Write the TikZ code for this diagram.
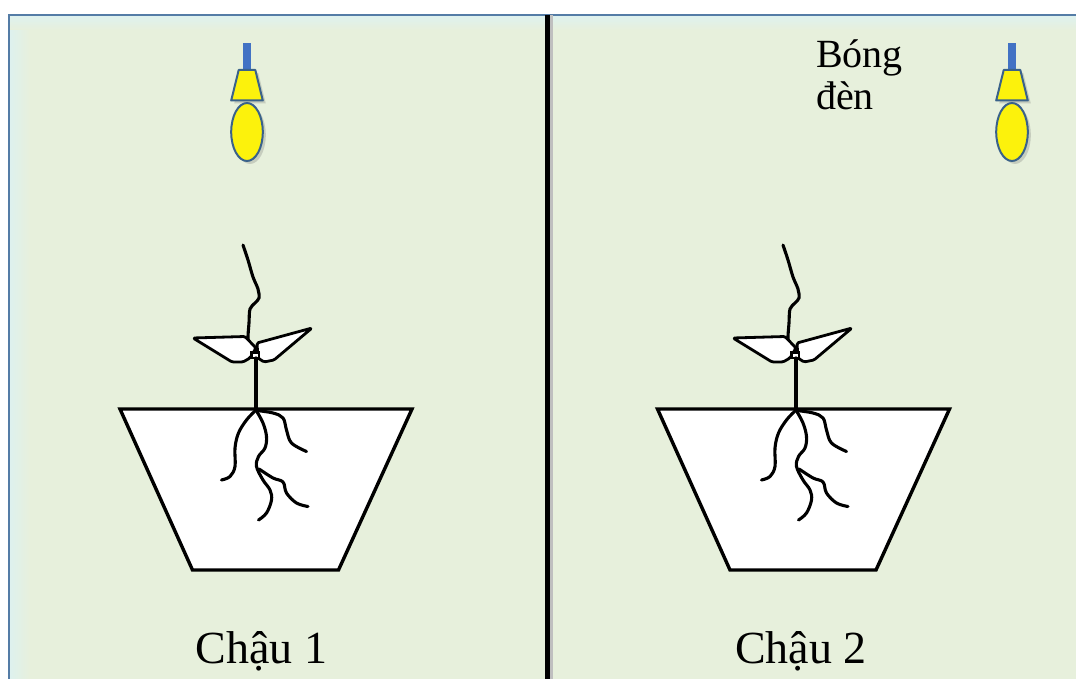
\documentclass[tikz,border=0pt]{standalone}
\usepackage{fontspec}
\setmainfont{Liberation Serif}
\usetikzlibrary{shadows}
\definecolor{panelbg}{RGB}{231,240,220}
\definecolor{panelglow}{RGB}{222,241,238}
\definecolor{framecol}{RGB}{84,124,166}
\definecolor{stemblue}{RGB}{66,114,196}
\definecolor{bulbyellow}{RGB}{252,242,12}
\definecolor{bulbedge}{RGB}{58,98,138}
\tikzset{
  plantline/.style={line width=3.1pt, line cap=round, line join=round, black},
  potline/.style={draw=black, line width=3.4pt, line join=miter, fill=white},
  leafline/.style={draw=black, line width=2.8pt, line join=round, fill=white},
  label/.style={font=\fontsize{46}{52}\selectfont, inner sep=0pt, text=black},
  smalllabel/.style={font=\fontsize{40}{42}\selectfont, inner sep=0pt, text=black, align=left},
  bulbpart/.style={fill=bulbyellow, draw=bulbedge, line width=2pt, line join=round,
    drop shadow={shadow xshift=3pt, shadow yshift=-3pt, opacity=0.25, fill=black!60}},
  % hanging lamp: origin at the lamp axis, y measured from the top edge
  lamp/.pic={
    \fill[stemblue] (-3.7,43) rectangle (3.7,71);
    \path[bulbpart] (-8.3,70) -- (8.3,70) -- (15.8,100.5) -- (-15.8,100.5) -- cycle;
    \path[bulbpart] (0,132) ellipse [x radius=15.8, y radius=29];
  },
  % seedling with its roots, drawn at the position of the first pot
  seedling/.pic={
    \draw[plantline] plot[smooth, tension=0.55] coordinates {(243,245) (248,260) (253,277) (258,289) (259,298) (255,303) (250,309) (249,323) (248,340) (251,349)};
    \path[leafline, rounded corners=1.5pt] (193,338) -- (245,336.5) -- (256,348) -- (250,358) -- (243,362) -- (232,362) -- cycle;
    \path[leafline, rounded corners=1.5pt] (312,328) -- (257,343) -- (258,358) -- (264,362) -- (274,360) -- cycle;
    \draw[line width=2.2pt, fill=white] (251.5,352.5) rectangle (259,358);
    \draw[plantline] (256,358) -- (256,410);
    \draw[plantline] plot[smooth, tension=0.6] coordinates {(255,411) (246.5,420) (238.5,433) (235,448) (235,466.5) (230,476.5) (221.5,480)};
    \draw[plantline] plot[smooth, tension=0.6] coordinates {(256.5,411) (263,423) (266.5,436.5) (265,448) (258.5,456.5) (256.5,466.5) (263,480) (270,490) (271.5,500) (266.5,513) (258.5,520)};
    \draw[plantline] plot[smooth, tension=0.6] coordinates {(259,469) (273,478) (283,482) (286.5,493) (296.5,503) (308,506.5)};
    \draw[plantline] plot[smooth, tension=0.6] coordinates {(256.5,410.5) (273,413) (283,418) (286.5,430) (291.5,443) (306.5,451.5)};
  }
}
\begin{document}
\begin{tikzpicture}[x=1pt, y=-1pt]
  \useasboundingbox (0,0) rectangle (1076,679);
  \fill[white] (0,0) rectangle (1076,679);
  % panel background with a faint glow along the framed edges
  \fill[panelbg] (9,15) rectangle (1076,679);
  \shade[left color=panelglow, right color=panelbg] (10,16) rectangle (30,679);
  \shade[top color=panelglow, bottom color=panelbg] (10,16) rectangle (1076,30);
  \draw[framecol, line width=2.2pt] (9,679) -- (9,15) -- (1076,15);
  % divider between the two set-ups
  \fill[black!25] (549,15) rectangle (553,679);
  \draw[black, line width=5pt] (547,15) -- (547,679);

  % lamps
  \pic at (247,0) {lamp};
  \pic at (1012,0) {lamp};
  \node[smalllabel, anchor=base west] (lamplabel) at (816,110) {Bóng\\đèn};

  % pots with seedlings
  \path[potline] (120,409) -- (412,409) -- (338.5,570) -- (192.5,570) -- cycle;
  \path[potline] (657.5,409) -- (949.5,409) -- (876,570) -- (730,570) -- cycle;
  \pic {seedling};
  \begin{scope}[xshift=540pt]
    \pic {seedling};
  \end{scope}

  \node[label, anchor=base] (pot1) at (261.5,663) {Chậu 1};
  \node[label, anchor=base] (pot2) at (801,663) {Chậu 2};
\end{tikzpicture}
\end{document}
